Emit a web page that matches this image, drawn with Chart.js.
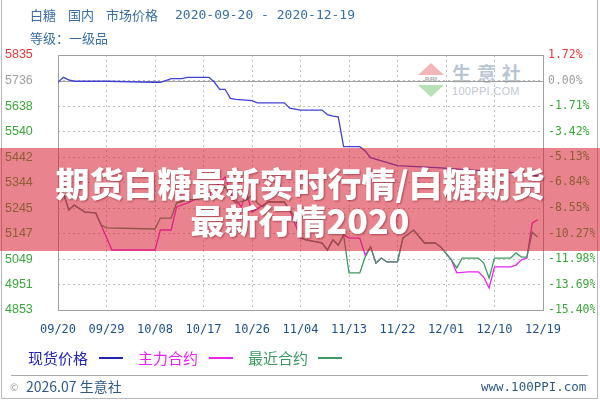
<!DOCTYPE html>
<html><head><meta charset="utf-8">
<script src="https://cdn.jsdelivr.net/npm/chart.js@4/dist/chart.umd.min.js"></script>
<style>
html,body{margin:0;padding:0;background:#fff;}
#wrap{position:relative;width:600px;height:400px;overflow:hidden;font-family:"Noto Sans CJK SC",sans-serif;}
#frame{position:absolute;left:1px;top:-2px;width:597px;height:401px;border:1px solid #b8b8b8;box-sizing:border-box;}
#cv{position:absolute;left:0;top:0;z-index:2;}
.t{position:absolute;white-space:pre;color:#3a6ea5;font-size:13px;line-height:16px;z-index:3;}
.mono{font-family:"DejaVu Sans Mono",monospace;}
#wm{position:absolute;left:416px;top:62px;width:120px;height:40px;z-index:1;}
#band{position:absolute;left:0;top:148px;width:600px;height:103px;background:rgba(215,30,50,0.55);z-index:4;
 color:#fff;font-weight:900;font-size:34px;line-height:37px;text-align:center;padding-top:16px;box-sizing:border-box;
 text-shadow:1px 1px 2px rgba(90,0,10,0.45);}
.lg{position:absolute;top:349px;font-size:15px;line-height:18px;z-index:3;}
.ln{position:absolute;top:357px;height:1.5px;width:24px;z-index:3;}
#sep{position:absolute;left:11px;top:375px;width:577px;height:1px;background:#aaa;}
</style></head>
<body><div id="wrap">
<div id="frame"></div>
<div class="t" style="left:30px;top:7px;">白糖</div>
<div class="t" style="left:68px;top:7px;">国内</div>
<div class="t" style="left:106px;top:7px;">市场价格</div>
<div class="t mono" style="left:175px;top:7px;">2020-09-20 - 2020-12-19</div>
<div class="t" style="left:30px;top:30px;">等级：一级品</div>
<div id="wm">
 <div style="position:absolute;left:2px;top:1px;width:0;height:0;border-left:13px solid transparent;border-right:13px solid transparent;border-bottom:12px solid #f2b6b6;"></div>
 <div style="position:absolute;left:2px;top:13px;width:26px;height:10px;font:bold 7px 'DejaVu Sans';color:#b9b9b9;text-align:center;line-height:10px;">PPI</div>
 <div style="position:absolute;left:2px;top:23px;width:0;height:0;border-left:13px solid transparent;border-right:13px solid transparent;border-top:12px solid #b6e2b6;"></div>
 <div style="position:absolute;left:36px;top:0px;font-size:19px;font-weight:bold;letter-spacing:6px;color:#bac6d3;line-height:22px;">生意社</div>
 <div style="position:absolute;left:36px;top:23px;font:11px 'Liberation Sans';color:#c0c8d2;letter-spacing:0.3px;">100PPI.COM</div>
</div>
<canvas id="cv" width="600" height="400"></canvas>
<div id="band"><div>期货白糖最新实时行情/白糖期货</div><div>最新行情2020</div></div>
<div class="lg" style="left:28px;color:#2323b8;">现货价格</div><div class="ln" style="left:99px;background:#2323b8;"></div>
<div class="lg" style="left:138px;color:#ee22ee;">主力合约</div><div class="ln" style="left:209px;background:#ee22ee;"></div>
<div class="lg" style="left:248px;color:#3d9a62;">最近合约</div><div class="ln" style="left:318px;background:#3d9a62;"></div>
<div id="sep"></div>
<div class="t" style="left:10px;top:379px;font-size:10px;color:#999;">©</div>
<div class="t" style="left:26px;top:377px;font-size:14px;line-height:18px;color:#2f5a88;">2026.07 生意社</div>
<div class="t mono" style="left:481px;top:378px;font-size:12.5px;line-height:18px;color:#2f5a88;">www.100PPI.com</div>
</div>
<script>
const xTickDays=[0,9,18,27,36,45,54,63,72,81,90];
const xTickLabels=['09/20','09/29','10/08','10/17','10/26','11/04','11/13','11/22','12/01','12/10','12/19'];
const yTickValues=[5835,5736,5638,5540,5442,5344,5245,5147,5049,4951,4853];
const pctTickLabels=['1.72%','0.00%','-1.71%','-3.42%','-5.13%','-6.84%','-8.55%','-10.27%','-11.98%','-13.69%','-15.40%'];
const baseValue=5736;

const spotDays=[0,1,2,3,9,18,19,20,21,23,24,28,29,30,31,32,33,36,37,42,43,45,49,50,51,52,53,56,57,58,63,71,81,85,89];
const spotValues=[5730,5749,5739,5734,5734,5730,5730,5736,5744,5744,5749,5749,5731,5703,5703,5668,5664,5659,5651,5651,5630,5623,5623,5605,5600,5597,5482,5482,5465,5440,5409,5400,5386,5381,5369];

const mainDays=[0,1,2,3,5,7,8,10,18,19,21,22,24,26,28,29,31,32,34,35,36,39,42,43,45,46,48,49,50,51,52,53,54,56,57,58,59,60,61,63,64,66,68,70,71,73,74,76,78,79,80,81,84,85,86,87,88,89];
const mainValues=[5315,5304,5238,5257,5230,5227,5180,5084,5084,5161,5161,5250,5265,5284,5296,5320,5365,5304,5250,5304,5230,5269,5269,5238,5130,5123,5115,5111,5084,5123,5103,5142,5130,5130,5065,5096,5034,5053,5038,5038,5130,5161,5111,5111,5096,5046,4996,5000,5000,4980,4938,5019,5019,5026,5046,5053,5188,5200];

const nearDays=[0,1,2,3,5,7,8,9,18,19,21,22,24,26,27,29,31,32,33,35,36,37,38,39,42,43,44,45,46,48,49,50,51,52,53,54,56,57,58,59,60,61,63,64,66,68,70,71,73,74,75,78,79,80,81,84,85,86,87,88,89];
const nearValues=[5315,5304,5238,5257,5230,5227,5180,5169,5165,5207,5207,5265,5277,5280,5284,5296,5330,5288,5265,5277,5296,5265,5250,5269,5269,5238,5211,5134,5123,5115,5111,5084,5123,5103,5142,4996,4996,5057,5096,5034,5053,5038,5038,5130,5161,5111,5111,5096,5046,5015,5053,5053,5034,4976,5053,5053,5073,5057,5057,5153,5134];

const pts=(d,v)=>d.map((x,i)=>({x:x,y:v[i]}));
const tickColor=(ctx)=>ctx.index===0?'#e83838':(ctx.index===1?'#a0a0a0':'#3aa83a');
const setTicks=(vals)=>(s)=>{s.ticks=vals.map(v=>({value:v}));};

const framePlugin={id:'frame',beforeDatasetsDraw(chart){
  const {ctx,chartArea:a,scales}=chart;ctx.save();ctx.strokeStyle='#a0a0a0';ctx.lineWidth=1;ctx.setLineDash([]);
  const y0=Math.round(scales.y.getPixelForValue(baseValue))+0.5;
  ctx.beginPath();ctx.moveTo(a.left,y0);ctx.lineTo(a.right,y0);ctx.stroke();
  ctx.strokeRect(Math.round(a.left)+0.5,Math.round(a.top)+0.5,Math.round(a.width),Math.round(a.height));
  ctx.restore();}};

new Chart(document.getElementById('cv'),{
 type:'line',
 data:{datasets:[
  {label:'现货价格',data:pts(spotDays,spotValues),borderColor:'#4141d6',borderWidth:1.3,pointRadius:0,tension:0,order:1},
  {label:'主力合约',data:pts(mainDays,mainValues),borderColor:'#ee22ee',borderWidth:1.3,pointRadius:0,tension:0,order:3},
  {label:'最近合约',data:pts(nearDays,nearValues),borderColor:'#3d9a62',borderWidth:1.3,pointRadius:0,tension:0,order:2}
 ]},
 options:{
  responsive:false,animation:false,
  layout:{padding:{left:5,right:5,top:55,bottom:60}},
  plugins:{legend:{display:false},tooltip:{enabled:false}},
  scales:{
   x:{type:'linear',min:0,max:90,afterBuildTicks:setTicks(xTickDays),
      afterFit:(s)=>{s.height=30;},
      grid:{color:'#bdbdbd',drawTicks:false},border:{display:false,dash:[2,3]},
      ticks:{autoSkip:false,maxRotation:0,padding:13,color:'#1f4f8a',font:{family:'DejaVu Sans Mono',size:12},
        callback:(v,i)=>xTickLabels[i]}},
   y:{position:'left',min:4853,max:5835,afterBuildTicks:setTicks(yTickValues),
      afterFit:(s)=>{s.width=53;},
      grid:{color:'#bdbdbd',drawTicks:false},border:{display:false,dash:[2,3]},
      ticks:{crossAlign:'far',color:tickColor,font:{family:'Liberation Sans',size:12.5},callback:(v)=>String(v)}},
   y2:{position:'right',min:4853,max:5835,afterBuildTicks:setTicks(yTickValues),
      afterFit:(s)=>{s.width=52;},
      grid:{display:false,drawTicks:false},border:{display:false},
      ticks:{padding:5,color:tickColor,font:{family:'DejaVu Sans Mono',size:11.5},callback:(v,i)=>pctTickLabels[i]}}
  }
 },
 plugins:[framePlugin]
});
</script>
</body></html>
